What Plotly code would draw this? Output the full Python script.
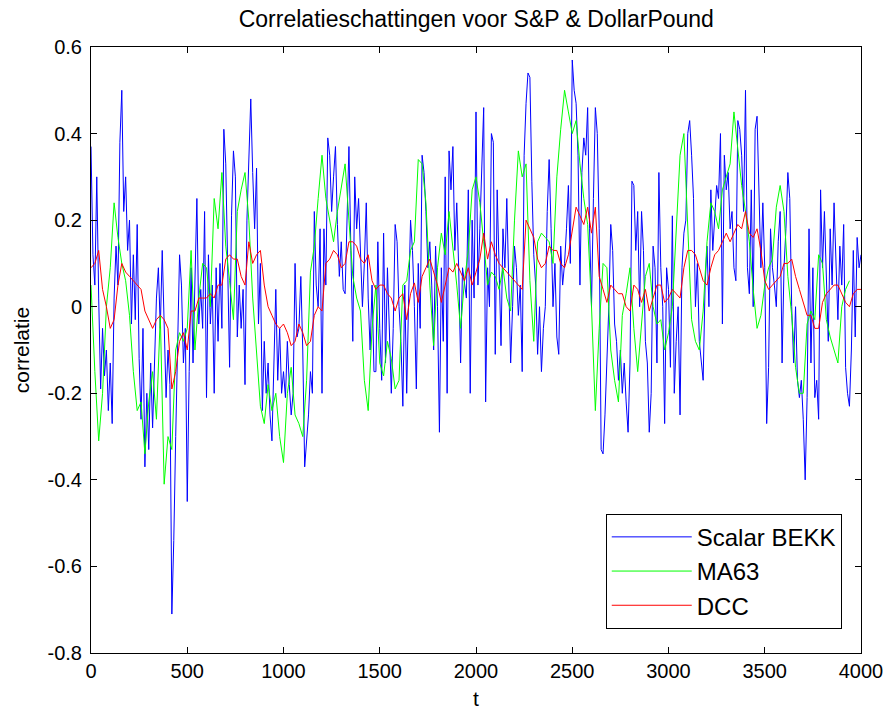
import plotly.graph_objects as go

# ---- data (t = 0..4000) ----
scalar_bekk = [
    0.37, 0.12, 0.05, 0.30, 0.02, -0.19, -0.05, -0.16, -0.10, -0.24,
    -0.13, -0.27, 0.02, 0.14, 0.05, 0.38, 0.50, 0.22, 0.30, 0.13,
    0.20, -0.04, 0.12, -0.03, 0.19, -0.12, -0.26, -0.05, -0.37, -0.20,
    -0.33, -0.13, -0.28, -0.15, 0.02, 0.09, -0.05, 0.13, -0.08, -0.21,
    -0.10, -0.18, -0.71, -0.54, -0.30, -0.05, 0.12, 0.05, -0.13, -0.05,
    -0.45, -0.15, 0.09, -0.13, 0.05, 0.25, -0.04, 0.04, -0.05, 0.22,
    -0.21, 0.12, -0.04, 0.05, -0.20, 0.09, -0.08, 0.10, -0.05, 0.41,
    0.33, 0.09, -0.14, 0.21, 0.36, 0.30, -0.07, 0.05, -0.05, 0.04,
    -0.18, 0.20, 0.35, 0.48, 0.31, 0.18, 0.32, -0.04, 0.10, -0.24,
    -0.08, -0.20, -0.13, -0.25, -0.31, -0.10, 0.04, -0.17, -0.05, -0.20,
    -0.15, -0.21, -0.08, -0.18, -0.25, -0.20, 0.10, -0.07, -0.05, 0.07,
    -0.10, -0.37, -0.30, -0.25, -0.15, -0.20, 0.22, 0.05, 0.00, 0.18,
    -0.20, 0.18, 0.05, 0.39, 0.35, 0.22, 0.30, 0.37, 0.19, 0.07,
    0.15, 0.04, 0.03, 0.20, 0.37, 0.13, -0.08, 0.30, 0.18, 0.25,
    0.13, 0.00, 0.10, 0.24, 0.02, -0.10, 0.05, -0.15, -0.15, 0.15,
    -0.05, -0.17, 0.17, -0.13, 0.09, -0.07, -0.20, -0.05, 0.19, 0.15,
    0.00, -0.08, -0.23, 0.05, -0.20, 0.02, 0.20, 0.13, 0.00, -0.19,
    0.10, -0.05, 0.35, 0.31, 0.22, 0.09, 0.15, 0.05, -0.10, 0.14,
    0.00, -0.29, 0.09, -0.08, 0.30, -0.20, 0.36, 0.27, 0.37, 0.13,
    0.24, 0.09, -0.13, 0.09, 0.05, 0.02, 0.27, -0.20, 0.20, 0.02,
    0.45, 0.05, 0.18, 0.31, 0.46, -0.22, 0.09, 0.00, 0.40, 0.38,
    -0.11, 0.27, 0.05, -0.09, 0.18, 0.09, 0.25, 0.05, -0.13, 0.00,
    0.14, 0.09, -0.02, 0.05, -0.15, 0.35, 0.47, 0.54, 0.53, 0.29,
    0.12, 0.05, -0.11, 0.00, -0.15, -0.05, 0.00, 0.22, 0.34, 0.18,
    0.00, 0.10, -0.07, -0.11, 0.14, 0.05, 0.10, 0.18, 0.28, 0.10,
    0.57, 0.50, 0.47, 0.35, 0.05, 0.31, 0.39, 0.35, 0.46, 0.18,
    0.00, 0.25, 0.46, 0.40, 0.18, -0.33, -0.34, -0.25, -0.12, 0.00,
    0.19, 0.13, -0.04, -0.08, -0.17, -0.10, -0.20, -0.13, -0.22, -0.29,
    -0.13, 0.29, 0.28, 0.13, 0.22, 0.00, 0.22, 0.13, -0.08, -0.13,
    -0.29, -0.20, 0.14, 0.09, -0.13, 0.31, 0.09, 0.00, -0.27, 0.09,
    0.04, -0.14, 0.21, -0.20, -0.08, 0.00, -0.25, 0.09, 0.17, 0.20,
    0.40, 0.43, 0.35, 0.25, 0.00, 0.10, -0.08, -0.13, -0.17, 0.05,
    0.14, 0.00, 0.27, 0.13, 0.20, 0.28, 0.25, 0.40, -0.04, 0.35,
    0.27, 0.31, 0.18, 0.22, 0.09, 0.06, 0.43, 0.41, 0.35, 0.22,
    0.50, 0.09, 0.03, 0.27, 0.00, 0.41, 0.44, 0.27, 0.09, 0.24,
    0.09, -0.27, -0.14, 0.18, 0.09, 0.05, 0.00, 0.15, 0.22, -0.13,
    0.09, 0.18, 0.31, 0.25, 0.00, -0.13, 0.00, -0.17, -0.21, -0.17,
    -0.26, -0.40, -0.21, 0.18, -0.13, 0.09, -0.21, -0.17, -0.26, 0.27,
    0.09, 0.22, 0.05, -0.08, 0.18, 0.05, 0.24, 0.09, -0.03, 0.14,
    0.05, 0.19, -0.14, -0.20, -0.23, -0.10, 0.13, -0.07, 0.16, 0.09,
    0.12,
]
bekk_step = 10

ma63 = [
    0.05, -0.15, -0.31, -0.20, 0.00, 0.09, 0.24, 0.16, 0.10, 0.06,
    -0.02, -0.15, -0.24, -0.22, -0.34, -0.22, -0.15, -0.26, -0.02, -0.41,
    -0.30, -0.33, -0.10, -0.06, -0.08, -0.05, 0.13, -0.10, 0.02, 0.10,
    0.09, 0.00, 0.25, 0.18, 0.31, 0.14, 0.06, -0.03, 0.22, 0.27,
    0.31, 0.20, 0.02, -0.10, -0.23, -0.27, -0.18, -0.24, -0.20, -0.30,
    -0.36, -0.20, -0.14, -0.25, -0.27, -0.30, -0.17, 0.08, 0.14, 0.25,
    0.35, 0.25, 0.20, 0.15, 0.22, 0.28, 0.33, 0.20, 0.07, 0.02,
    -0.01, -0.17, -0.24, -0.05, 0.05, -0.13, -0.16, -0.08, -0.12, -0.19,
    -0.17, 0.05, 0.06, 0.13, 0.15, 0.34, 0.33, 0.24, 0.05, -0.09,
    0.09, 0.17, 0.12, 0.22, 0.14, 0.05, -0.05, 0.06, 0.13, 0.27,
    0.30, 0.24, 0.15, 0.05, 0.08, 0.07, 0.04, 0.09, 0.02, -0.01,
    0.20, 0.36, 0.30, 0.33, 0.06, -0.08, 0.15, 0.17, 0.16, 0.15,
    0.10, 0.30, 0.41, 0.50, 0.45, 0.40, 0.43, 0.33, 0.25, 0.19,
    0.00, -0.24, -0.05, 0.10, 0.09, -0.10, -0.17, -0.22, -0.02, 0.03,
    0.09, -0.05, -0.15, -0.03, 0.07, 0.10, 0.00, -0.04, -0.03, -0.10,
    -0.06, 0.00, 0.18, 0.35, 0.40, 0.20, -0.03, -0.08, -0.10, -0.01,
    0.15, 0.24, 0.22, 0.18, 0.27, 0.30, 0.33, 0.45, 0.37, 0.28,
    0.22, 0.15, 0.04, -0.05, -0.02, 0.05, 0.09, 0.11, 0.23, 0.28,
    0.22, 0.07, -0.02, -0.14, -0.20, -0.20, -0.04, -0.01, -0.03, 0.12,
    0.10, -0.03, -0.07, -0.10, -0.13, 0.00, 0.04, 0.06,
]
ma63_step = 20

dcc = [
    0.09, 0.10, 0.13, 0.04, 0.00, -0.05, -0.03, 0.05, 0.10, 0.08,
    0.07, 0.06, 0.05, 0.04, -0.01, -0.03, -0.05, -0.03, -0.02, -0.03,
    -0.05, -0.19, -0.15, -0.08, -0.06, -0.10, -0.01, -0.01, 0.02, 0.02,
    0.02, 0.03, 0.02, 0.05, 0.05, 0.11, 0.12, 0.11, 0.11, 0.07,
    0.05, 0.15, 0.10, 0.12, 0.13, 0.05, 0.00, -0.02, -0.04, -0.05,
    -0.04, -0.06, -0.09, -0.08, -0.04, -0.06, -0.09, -0.08, -0.02, 0.00,
    -0.01, 0.10, 0.11, 0.13, 0.12, 0.09, 0.10, 0.15, 0.15, 0.14,
    0.11, 0.10, 0.12, 0.06, 0.04, 0.05, 0.05, 0.03, 0.02, -0.01,
    0.02, 0.03, -0.03, 0.03, 0.055, 0.01, 0.07, 0.09, 0.11, 0.08,
    0.05, 0.01, 0.05, 0.09, 0.08, 0.10, 0.08, 0.06, 0.09, 0.05,
    0.08, 0.11, 0.17, 0.11, 0.15, 0.12, 0.10, 0.09, 0.08, 0.07,
    0.06, 0.05, 0.04, 0.20, 0.18, 0.16, 0.11, 0.09, 0.10, 0.14,
    0.13, 0.13, 0.10, 0.09, 0.12, 0.18, 0.23, 0.21, 0.19, 0.23,
    0.17, 0.23, 0.07, 0.04, 0.01, 0.05, 0.04, 0.03, 0.03, 0.00,
    -0.01, 0.05, 0.04, 0.01, 0.04, -0.01, 0.02, 0.05, 0.05, 0.01,
    0.02, 0.04, 0.03, 0.02, 0.09, 0.13, 0.13, 0.12, 0.09, 0.06,
    0.05, 0.09, 0.12, 0.13, 0.15, 0.17, 0.15, 0.17, 0.19, 0.18,
    0.22, 0.17, 0.16, 0.18, 0.13, 0.06, 0.04, 0.05, 0.06, 0.07,
    0.10, 0.10, 0.11, 0.07, 0.04, 0.01, -0.02, -0.02, -0.05, -0.05,
    0.01, 0.03, 0.04, 0.05, 0.05, 0.03, 0.01, 0.00, 0.03, 0.04,
    0.04,
]
dcc_step = 20

x_ticks = [0, 500, 1000, 1500, 2000, 2500, 3000, 3500, 4000]
y_ticks = [-0.8, -0.6, -0.4, -0.2, 0, 0.2, 0.4, 0.6]
y_tick_labels = ["-0.8", "-0.6", "-0.4", "-0.2", "0", "0.2", "0.4", "0.6"]

t_bekk = [i * bekk_step for i in range(len(scalar_bekk))]
t_ma = [i * ma63_step for i in range(len(ma63))]
t_dcc = [i * dcc_step for i in range(len(dcc))]

FONT = "Liberation Sans, Arial, Helvetica, sans-serif"

fig = go.Figure()
fig.add_trace(go.Scatter(x=t_bekk, y=scalar_bekk, mode="lines", name="Scalar BEKK",
                         line=dict(color="#0000FF", width=1)))
fig.add_trace(go.Scatter(x=t_ma, y=ma63, mode="lines", name="MA63",
                         line=dict(color="#00FF00", width=1)))
fig.add_trace(go.Scatter(x=t_dcc, y=dcc, mode="lines", name="DCC",
                         line=dict(color="#FF0000", width=1)))

axis_common = dict(showgrid=False, zeroline=False, showline=True, linecolor="black",
                   linewidth=1, mirror="ticks", ticks="inside", ticklen=6,
                   tickcolor="black", tickwidth=1, automargin=False,
                   tickfont=dict(family=FONT, size=20, color="black"))

fig.update_layout(
    width=887, height=711,
    margin=dict(l=91, r=26, t=47, b=58),
    paper_bgcolor="white", plot_bgcolor="white",
    title=dict(text="Correlatieschattingen voor S&P & DollarPound",
               x=0.537, xanchor="center", y=0.974, yanchor="middle",
               font=dict(family=FONT, size=23, color="black")),
    xaxis=dict(range=[0, 4000], tickvals=x_ticks,
               title=dict(text="t", font=dict(family=FONT, size=21, color="black"), standoff=10),
               **axis_common),
    yaxis=dict(range=[-0.8, 0.6], tickvals=y_ticks, ticktext=y_tick_labels,
               ticklabelstandoff=4,
               title=dict(text="correlatie", font=dict(family=FONT, size=21, color="black"), standoff=12),
               **axis_common),
    legend=dict(x=0.975, y=0.04, xanchor="right", yanchor="bottom",
                bgcolor="white", bordercolor="black", borderwidth=1,
                font=dict(family=FONT, size=24, color="black"),
                itemwidth=80, tracegroupgap=0),
    showlegend=True,
)

fig.write_html("out.html")
